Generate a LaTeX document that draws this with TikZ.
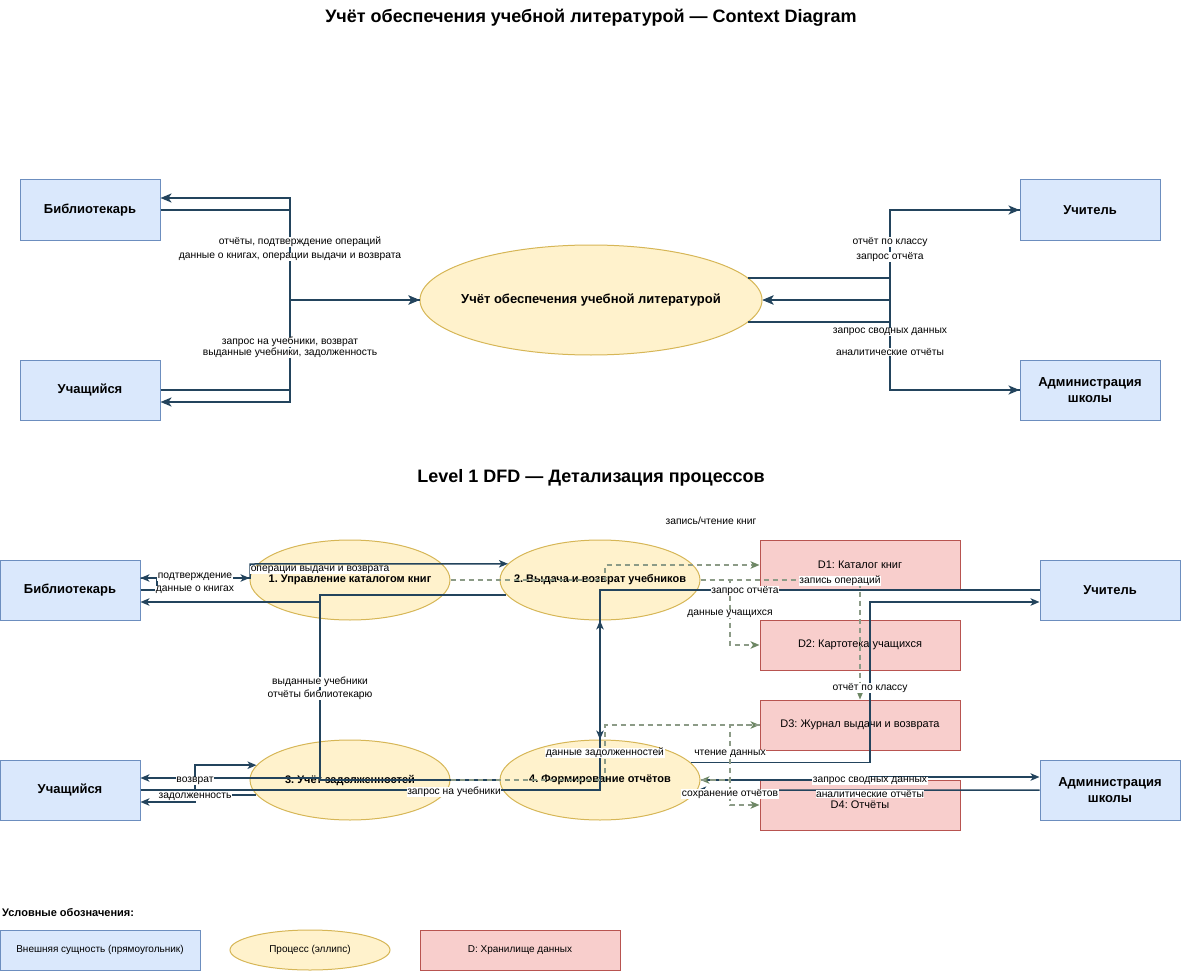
\documentclass[tikz,border=0pt]{standalone}
\usepackage{fontspec}
\setmainfont{Liberation Sans}
\usetikzlibrary{arrows.meta,shapes.geometric}
\definecolor{entfill}{HTML}{DAE8FC}
\definecolor{entline}{HTML}{6C8EBF}
\definecolor{procfill}{HTML}{FFF2CC}
\definecolor{procline}{HTML}{D6B656}
\definecolor{storefill}{HTML}{F8CECC}
\definecolor{storeline}{HTML}{B85450}
\definecolor{flowc}{HTML}{23445D}
\definecolor{dfline}{RGB}{140,155,135}
\definecolor{dfarrow}{HTML}{6D8764}
\newcommand{\inell}[1]{\makebox[0pt]{#1}}
\frenchspacing

\begin{document}
\begin{tikzpicture}[x=1pt, y=-1pt,
  ttl/.style={font=\fontsize{18}{21}\selectfont\bfseries, inner sep=1pt},
  ent/.style={draw=entline, fill=entfill, line width=1pt, minimum width=140pt,
              minimum height=60pt, align=center, font=\fontsize{13}{16}\selectfont\bfseries},
  proc/.style={ellipse, draw=procline, fill=procfill, line width=1pt, inner sep=0pt,
               minimum width=200pt, minimum height=80pt, font=\fontsize{11}{13}\selectfont\bfseries},
  store/.style={draw=storeline, fill=storefill, line width=1pt, minimum width=200pt,
                minimum height=50pt, font=\fontsize{11}{13}\selectfont},
  flow/.style={draw=flowc, line width=2pt, -{Stealth[length=11pt,width=9pt,inset=3pt]}},
  bflow/.style={draw=flowc, line width=1.5pt, -{Stealth[length=9pt,width=7.5pt,inset=2.5pt]}},
  dflow/.style={draw=dfline, line width=1.5pt, dash pattern=on 5pt off 4pt,
                -{Stealth[length=9pt,width=7.5pt,inset=2.5pt,color=dfarrow]}},
  lbl/.style={font=\fontsize{10.3}{12}\selectfont, fill=white, inner sep=0.5pt}]

\useasboundingbox (0,0) rectangle (1181,971);

% --- context diagram ---
\node[ttl] (title1) at (591,18) {Учёт обеспечения учебной литературой — Context Diagram};
\node[ent] (lib) at (90,210) {Библиотекарь};
\node[ent] (stu) at (90,390) {Учащийся};
\node[ent] (tch) at (1090,210) {Учитель};
\node[ent] (adm) at (1090,390) {Администрация\\школы};
\node[proc, minimum width=342pt, minimum height=110pt, font=\fontsize{13}{15}\selectfont\bfseries]
  (sys) at (591,300) {\inell{Учёт обеспечения учебной литературой}};

\draw[flow] (lib.east) -| (290,300) -- (sys.west);
\draw[flow] (sys.west) -- (290,300) |- (lib.east |- 0,198);
\draw[flow] (stu.east) -| (290,300) -- (sys.west);
\draw[flow] (sys.west) -- (290,300) |- (stu.east |- 0,402);
\draw[flow] (sys.8) -| (890,210) -- (tch.west);
\draw[flow] (tch.west) -| (890,300) -- (sys.east);
\draw[flow] (sys.-8) -| (890,390) -- (adm.west);
\draw[flow] (adm.west) -| (890,300) -- (sys.east);

\node[lbl] (lab-rep) at (300,242) {отчёты, подтверждение операций};
\node[lbl] (lab-books) at (290,257) {данные о книгах, операции выдачи и возврата};
\node[lbl] (lab-req) at (290,342) {запрос на учебники, возврат};
\node[lbl] (lab-issued) at (290,353) {выданные учебники, задолженность};
\node[lbl] (lab-cls) at (890,242) {отчёт по классу};
\node[lbl] (lab-qry) at (890,257) {запрос отчёта};
\node[lbl] (lab-sum) at (890,332) {запрос сводных данных};
\node[lbl] (lab-anl) at (890,352) {аналитические отчёты};

% --- level 1 ---
\node[ttl] (title2) at (591,478) {Level 1 DFD — Детализация процессов};
\node[ent] (lib2) at (70,590) {Библиотекарь};
\node[ent] (stu2) at (70,790) {Учащийся};
\node[ent] (tch2) at (1110,590) {Учитель};
\node[ent] (adm2) at (1110,790) {Администрация\\школы};
\node[proc] (p1) at (350,580) {\inell{1. Управление каталогом книг}};
\node[proc] (p2) at (600,580) {\inell{2. Выдача и возврат учебников}};
\node[proc] (p3) at (350,780) {\inell{3. Учёт задолженностей}};
\node[proc] (p4) at (600,780) {\inell{4. Формирование отчётов}};
\node[store] (d1) at (860,565) {D1: Каталог книг};
\node[store] (d2) at (860,645) {D2: Картотека учащихся};
\node[store] (d3) at (860,725) {D3: Журнал выдачи и возврата};
\node[store] (d4) at (860,805) {D4: Отчёты};

% solid flows
\draw[bflow] (lib2.east) -- (157,590) |- (p1.west |- 0,578);
\draw[bflow] (p1.west |- 0,578) -- (lib2.east |- 0,578);
\draw[bflow] (lib2.east |- 0,578) -| (250,564) -- (p2.170);
\draw[bflow] (p2.189) -| (320,778) -- (stu2.east |- 0,778);
\draw[bflow] (p4.west) -| (320,602) -- (lib2.east |- 0,602);
\draw[bflow] (stu2.east) -| (p2.south);
\draw[bflow] (tch2.west) -| (p4.north);
\draw[bflow] (stu2.east) -- (195,790) |- (p3.171);
\draw[bflow] (p3.189) -| (195,802) -- (stu2.east |- 0,802);
\draw[bflow] (p4.11) -| (870,602) -- (tch2.west |- 0,602);
\draw[bflow] (p4.east) -- (870,780) |- (adm2.west |- 0,777);
\draw[bflow] (adm2.west) -- (p4.-6);

% data store flows
\draw[dflow] (p1.east) -- (605,580) |- (d1.west);
\draw[dflow] (p2.east) -| (d3.north);
\draw[dflow] (p2.east) -- (730,580) |- (d2.west);
\draw[dflow] (p3.east) -- (605,780) |- (d3.west);
\draw[dflow] (d3.west) -- (730,725) |- (p4.east);
\draw[dflow] (p4.east) -- (730,780) |- (d4.west);

\node[lbl] (lab-bk) at (195,590) {данные о книгах};
\node[lbl] (lab-conf) at (195,577) {подтверждение};
\node[lbl] (lab-ops) at (320,570) {операции выдачи и возврата};
\node[lbl] (lab-iss) at (320,682) {выданные учебники};
\node[lbl] (lab-librep) at (320,695) {отчёты библиотекарю};
\node[lbl] (lab-ret) at (195,781) {возврат};
\node[lbl] (lab-debt) at (195,797) {задолженность};
\node[lbl] (lab-treq) at (454,792) {запрос на учебники};
\node[lbl] (lab-rq) at (745,591) {запрос отчёта};
\node[lbl] (lab-stud) at (730,614) {данные учащихся};
\node[lbl] (lab-rw) at (711,521) {запись/чтение книг};
\node[lbl] (lab-wr) at (840,581) {запись операций};
\node[lbl] (lab-cls2) at (870,688) {отчёт по классу};
\node[lbl] (lab-dd) at (605,753) {данные задолженностей};
\node[lbl] (lab-read) at (730,754) {чтение данных};
\node[lbl] (lab-save) at (730,794) {сохранение отчётов};
\node[lbl] (lab-sum2) at (870,781) {запрос сводных данных};
\node[lbl] (lab-anl2) at (870,794) {аналитические отчёты};

% --- legend ---
\node[font=\fontsize{11}{13}\selectfont\bfseries, anchor=west, inner sep=0pt] (legtitle) at (2,913) {Условные обозначения:};
\node[ent, minimum width=200pt, minimum height=40pt, font=\fontsize{10}{12}\selectfont] (legent) at (100,950) {Внешняя сущность (прямоугольник)};
\node[proc, minimum width=160pt, minimum height=40pt, font=\fontsize{10}{12}\selectfont] (legproc) at (310,950) {\inell{Процесс (эллипс)}};
\node[store, minimum width=200pt, minimum height=40pt, font=\fontsize{10}{12}\selectfont] (legstore) at (520,950) {D: Хранилище данных};
\end{tikzpicture}
\end{document}
